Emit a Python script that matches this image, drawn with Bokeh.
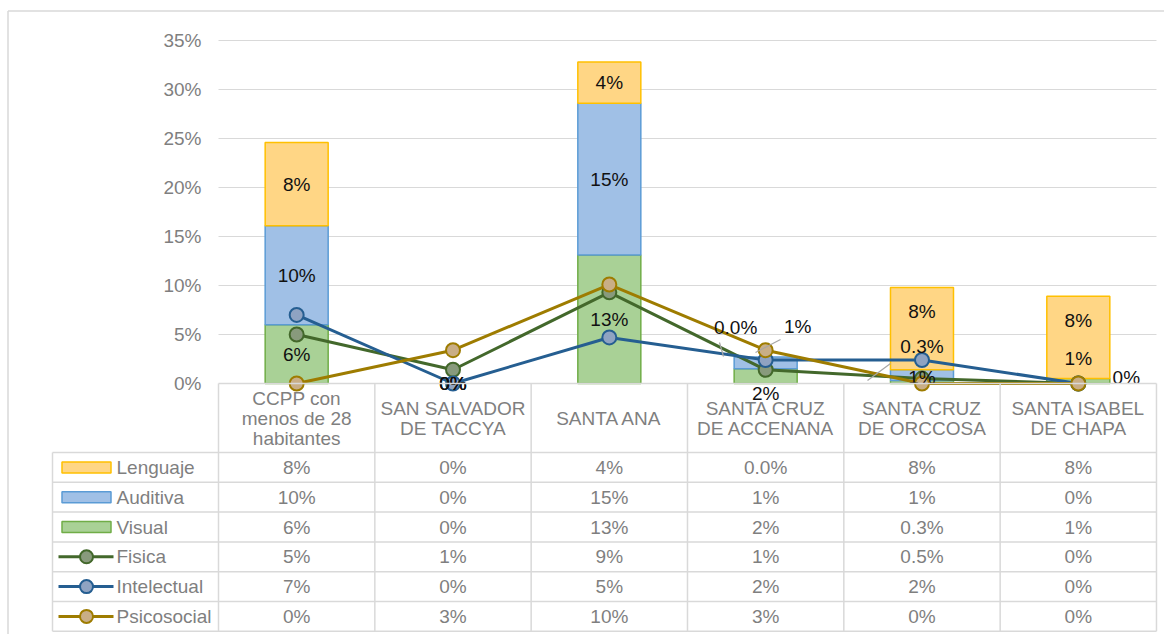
from bokeh.plotting import figure
from bokeh.models import Range1d
from bokeh.core.properties import value
from bokeh.embed import file_html
from bokeh.resources import INLINE

# ---------------- data ----------------
CATEGORIES = ["CCPP con\nmenos de 28\nhabitantes", "SAN SALVADOR\nDE TACCYA", "SANTA ANA",
              "SANTA CRUZ\nDE ACCENANA", "SANTA CRUZ\nDE ORCCOSA", "SANTA ISABEL\nDE CHAPA"]
SERIES = ["Lenguaje", "Auditiva", "Visual", "Fisica", "Intelectual", "Psicosocial"]

VISUAL = [6.0, 0.0, 13.1, 1.5, 0.3, 0.5]
AUDITIVA = [10.1, 0.0, 15.5, 1.2, 1.1, 0.0]
LENGUAJE = [8.5, 0.0, 4.2, 0.0, 8.4, 8.4]
FISICA = [5.0, 1.4, 9.3, 1.4, 0.5, 0.0]
INTELECTUAL = [7.0, 0.0, 4.7, 2.4, 2.4, 0.0]
PSICOSOCIAL = [0.0, 3.4, 10.1, 3.4, 0.0, 0.0]

TXT_LENGUAJE = ["8%", "0%", "4%", "0.0%", "8%", "8%"]
TXT_AUDITIVA = ["10%", "0%", "15%", "1%", "1%", "0%"]
TXT_VISUAL = ["6%", "0%", "13%", "2%", "0.3%", "1%"]
TXT_FISICA = ["5%", "1%", "9%", "1%", "0.5%", "0%"]
TXT_INTELECTUAL = ["7%", "0%", "5%", "2%", "2%", "0%"]
TXT_PSICOSOCIAL = ["0%", "3%", "10%", "3%", "0%", "0%"]

Y_TICKS = [0, 5, 10, 15, 20, 25, 30, 35]
Y_TICK_LABELS = ["0%", "5%", "10%", "15%", "20%", "25%", "30%", "35%"]

# ---------------- layout (canvas pixels) ----------------
W, H = 1164, 634
X_EDGE, CW = 218.0, 156.33
Y_ZERO, PPU = 383.0, 9.8
LEFT_COL = 52.0
ROW_TOP, ROW_H = 452.0, 29.8
BAR_W = 0.403
FONT = value("Liberation Sans")
FS = "19px"
GRAY = "#7f7f7f"
GRID = "#d9d9d9"


def xd(px):
    return (px - X_EDGE) / CW


def yd(py):
    return (Y_ZERO - py) / PPU


p = figure(width=W, height=H, output_backend="svg", toolbar_location=None,
           x_range=Range1d(xd(0), xd(W)), y_range=Range1d(yd(H), yd(0)),
           x_axis_type=None, y_axis_type=None, min_border=0)
p.grid.visible = False
p.outline_line_color = None
p.background_fill_color = "white"
p.border_fill_color = "white"

n = len(CATEGORIES)
xs = [i + 0.5 for i in range(n)]

# outer chart border
p.segment(x0=[xd(7.5), xd(7.5)], y0=[yd(10.5), yd(10.5)], x1=[xd(7.5), xd(1200)],
          y1=[yd(700), yd(10.5)], line_color=GRID, line_width=1.5)

# gridlines
p.segment(x0=[0] * len(Y_TICKS[1:]), x1=[n] * len(Y_TICKS[1:]), y0=Y_TICKS[1:], y1=Y_TICKS[1:],
          line_color=GRID, line_width=1.2)

# y tick labels
p.text(x=[xd(201)] * len(Y_TICKS), y=Y_TICKS, text=Y_TICK_LABELS, text_align="right",
       text_baseline="middle", text_font=FONT, text_font_size=FS, text_color=GRAY)

# ---------------- stacked bars ----------------
bar_series = [
    (VISUAL, "#a9d196", "#70ad47"),
    (AUDITIVA, "#a0c0e6", "#5b9bd5"),
    (LENGUAJE, "#ffd685", "#ffc000"),
]
base = [0.0] * n
bar_bottoms = []
for vals, fill, line in bar_series:
    bx = [xs[i] for i in range(n) if vals[i] > 0]
    bb = [base[i] for i in range(n) if vals[i] > 0]
    bt = [base[i] + vals[i] for i in range(n) if vals[i] > 0]
    p.vbar(x=bx, bottom=bb, top=bt, width=BAR_W, fill_color=fill, line_color=line, line_width=1.5)
    bar_bottoms.append(list(base))
    base = [base[i] + vals[i] for i in range(n)]

# ---------------- lines ----------------
line_series = [
    (FISICA, "#43682b", "#889a7c"),
    (INTELECTUAL, "#255e91", "#8fa3c2"),
    (PSICOSOCIAL, "#9e7c00", "#c9ae86"),
]
for vals, lc, mc in line_series:
    p.line(x=xs, y=vals, line_color=lc, line_width=3)
    p.scatter(x=xs, y=vals, size=14, fill_color=mc, line_color=lc, line_width=2)

# ---------------- data labels on bars ----------------
# manual label displacement (pixels) for small segments; series 0=Visual, 1=Auditiva, 2=Lenguaje
LABEL_SHIFT = {
    (0, 3): (0, 17.5), (1, 3): (32, -36), (2, 3): (-30, -29.5),
    (0, 4): (0, -35.5), (1, 4): (0, 2), (2, 4): (0, -17),
    (0, 5): (0, -22.5), (1, 5): (48, -1), (2, 5): (0, -17),
}
label_txt = [TXT_VISUAL, TXT_AUDITIVA, TXT_LENGUAJE]
bar_vals = [VISUAL, AUDITIVA, LENGUAJE]
lx, ly, lt, ldx, ldy = [], [], [], [], []
for s in range(3):
    for i in range(n):
        lx.append(xs[i])
        ly.append(bar_bottoms[s][i] + bar_vals[s][i] / 2.0)
        lt.append(label_txt[s][i])
        dx, dy = LABEL_SHIFT.get((s, i), (0, 0))
        ldx.append(dx)
        ldy.append(dy)
p.text(x=lx, y=ly, text=lt, x_offset=ldx, y_offset=ldy, text_align="center",
       text_baseline="middle", text_font=FONT, text_font_size=FS, text_color="#111111")

# leader lines
p.segment(x0=[xd(719), xd(780), xd(867)], y0=[yd(342), yd(339), yd(380)],
          x1=[xd(723), xd(755), xd(890)], y1=[yd(356), yd(352), yd(363)],
          line_color="#a6a6a6", line_width=1.2)

# ---------------- data table ----------------
rows_y = [ROW_TOP + k * ROW_H for k in range(len(SERIES) + 1)]
bottom = rows_y[-1]
p.segment(x0=[0] + [xd(LEFT_COL)] * len(rows_y), x1=[n] * (len(rows_y) + 1),
          y0=[0] + [yd(r) for r in rows_y], y1=[0] + [yd(r) for r in rows_y],
          line_color=GRID, line_width=1.5)
p.segment(x0=[xd(LEFT_COL)] + list(range(n + 1)), x1=[xd(LEFT_COL)] + list(range(n + 1)),
          y0=[yd(ROW_TOP)] + [0] * (n + 1), y1=[yd(bottom)] * (n + 2),
          line_color=GRID, line_width=1.5)

# category header
p.text(x=xs, y=[yd(418)] * n, text=CATEGORIES, text_align="center", text_baseline="middle",
       text_font=FONT, text_font_size=FS, text_color=GRAY, text_line_height=0.96)

table_txt = [TXT_LENGUAJE, TXT_AUDITIVA, TXT_VISUAL, TXT_FISICA, TXT_INTELECTUAL, TXT_PSICOSOCIAL]
tx, ty, tt = [], [], []
for r, row in enumerate(table_txt):
    cy = yd(ROW_TOP + (r + 0.5) * ROW_H)
    for i in range(n):
        tx.append(xs[i])
        ty.append(cy)
        tt.append(row[i])
p.text(x=tx, y=ty, text=tt, text_align="center", text_baseline="middle",
       text_font=FONT, text_font_size=FS, text_color=GRAY)

# legend keys
row_c = [yd(ROW_TOP + (r + 0.5) * ROW_H) for r in range(len(SERIES))]
key_fill = ["#ffd685", "#a0c0e6", "#a9d196"]
key_line = ["#ffc000", "#5b9bd5", "#70ad47"]
p.rect(x=[xd(86)] * 3, y=row_c[:3], width=49, height=11, width_units="screen",
       height_units="screen", fill_color=key_fill, line_color=key_line, line_width=1.5)
for k, (vals, lc, mc) in enumerate(line_series):
    yy = row_c[3 + k]
    p.line(x=[xd(58), xd(113)], y=[yy, yy], line_color=lc, line_width=3)
    p.scatter(x=[xd(86)], y=[yy], size=13, fill_color=mc, line_color=lc, line_width=2)
p.text(x=[xd(116)] * len(SERIES), y=row_c, text=SERIES, text_align="left",
       text_baseline="middle", text_font=FONT, text_font_size=FS, text_color=GRAY)

open("out.html", "w").write(file_html(p, INLINE))
